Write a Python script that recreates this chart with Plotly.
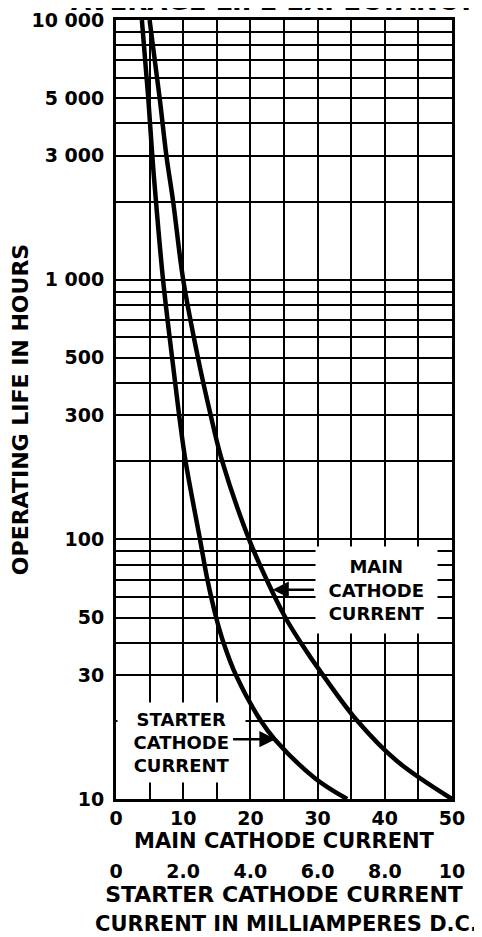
import plotly.graph_objects as go

# ---- data ----
main_hours = [10000, 5000, 3000, 2000, 1000, 500, 300, 200, 100, 70, 50, 40, 30, 20, 14, 10]
main_ma = [5.0, 6.5, 7.5, 8.5, 10.0, 12.2, 14.1, 15.8, 19.8, 22.4, 25.2, 27.5, 30.8, 35.9, 41.8, 50.0]

starter_hours = [10000, 5000, 3000, 2000, 1000, 500, 300, 200, 100, 70, 50, 40, 30, 20, 17, 12, 10]
starter_ma = [0.77, 0.96, 1.08, 1.19, 1.40, 1.67, 1.88, 2.07, 2.50, 2.72, 2.98, 3.20, 3.57, 4.31, 4.72, 5.93, 6.88]

y_grid = [10, 20, 30, 40, 50, 60, 70, 80, 90,
          100, 200, 300, 400, 500, 600, 700, 800, 900,
          1000, 2000, 3000, 4000, 5000, 6000, 7000, 8000, 9000, 10000]
y_labels = {10: "10", 30: "30", 50: "50", 100: "100", 300: "300", 500: "500",
            1000: "1 000", 3000: "3 000", 5000: "5 000", 10000: "10 000"}

x_main_grid = [0, 5, 10, 15, 20, 25, 30, 35, 40, 45, 50]
x_main_labels = {0: "0", 10: "10", 20: "20", 30: "30", 40: "40", 50: "50"}

x_starter_ticks = [0, 2, 4, 6, 8, 10]
x_starter_labels = ["0", "2.0", "4.0", "6.0", "8.0", "10"]

FONT = "DejaVu Sans"
OFF = 8                      # page body margin of the browser
W, H = 482 - OFF, 937 - OFF
ML, MR, MT, MB = 116 - OFF, 30, 20 - OFF, 79
PW = W - ML - MR
PH = H - MT - MB
PLOT_BOTTOM = 799


def px(x):
    """page x pixel -> paper coordinate"""
    return (x - OFF - ML) / PW


def py(y):
    """page y pixel -> paper coordinate"""
    return (H - MB - (y - OFF)) / PH


def bold(size):
    return dict(family=FONT, size=size, color="black", weight="bold")


fig = go.Figure()
fig.add_trace(go.Scatter(x=main_ma, y=main_hours, mode="lines",
                         line=dict(color="black", width=4.5, shape="spline", smoothing=1.0),
                         xaxis="x", yaxis="y", showlegend=False, hoverinfo="skip"))
fig.add_trace(go.Scatter(x=starter_ma, y=starter_hours, mode="lines",
                         line=dict(color="black", width=4.5, shape="spline", smoothing=1.0),
                         xaxis="x2", yaxis="y", showlegend=False, hoverinfo="skip"))

annotations = []
# partially visible title at the very top (clipped by the page edge, as in the reference)
annotations.append(dict(text="AVERAGE LIFE EXPECTANCY", xref="paper", yref="paper",
                        x=px(274), y=py(1), xanchor="center", yanchor="middle",
                        showarrow=False, font=bold(26)))
# bottom caption
annotations.append(dict(text="CURRENT IN MILLIAMPERES D.C.", xref="paper", yref="paper",
                        x=px(286), y=py(924), xanchor="center", yanchor="middle",
                        showarrow=False, font=bold(21)))

# label boxes (white background hides the grid behind them)
annotations.append(dict(text="MAIN<br>CATHODE<br>CURRENT", xref="paper", yref="paper",
                        x=px(376.5), y=py(590), xanchor="center", yanchor="middle",
                        showarrow=False, width=121, height=86, borderpad=0,
                        bgcolor="white", align="center", valign="middle", font=bold(18)))
annotations.append(dict(text="STARTER<br>CATHODE<br>CURRENT", xref="paper", yref="paper",
                        x=px(181.5), y=py(742.5), xanchor="center", yanchor="middle",
                        showarrow=False, width=127, height=79, borderpad=0,
                        bgcolor="white", align="center", valign="middle", font=bold(18)))

# arrows pointing to the curves
annotations.append(dict(text="", xref="x", yref="y", x=23.3, y=1.806, ax=43, ay=0,
                        showarrow=True, arrowhead=2, arrowsize=1.3, arrowwidth=2.5,
                        arrowcolor="black"))
annotations.append(dict(text="", xref="x2", yref="y", x=4.75, y=1.2304, ax=-44, ay=0,
                        showarrow=True, arrowhead=2, arrowsize=1.3, arrowwidth=2.5,
                        arrowcolor="black"))

fig.update_layout(
    width=W, height=H,
    margin=dict(l=ML, r=MR, t=MT, b=MB, pad=0, autoexpand=False),
    paper_bgcolor="white", plot_bgcolor="white",
    showlegend=False,
    xaxis=dict(range=[0, 50], tickvals=x_main_grid,
               ticktext=[x_main_labels.get(v, "") for v in x_main_grid],
               showgrid=True, gridcolor="black", gridwidth=2,
               showline=True, linecolor="black", linewidth=3, mirror=True,
               zeroline=False, ticks="", tickfont=bold(19), automargin=False,
               title=dict(text="MAIN CATHODE CURRENT", font=bold(21), standoff=2),
               anchor="y"),
    xaxis2=dict(range=[0, 10], overlaying="x", anchor="free", position=0, side="bottom",
                tickvals=x_starter_ticks, ticktext=x_starter_labels,
                showgrid=False, showline=False, zeroline=False, ticks="",
                tickfont=bold(19), automargin=False,
                title=dict(text="STARTER CATHODE CURRENT", font=bold(22), standoff=2)),
    yaxis=dict(type="log", range=[1, 4], domain=[py(PLOT_BOTTOM), 1],
               tickvals=y_grid, ticktext=[y_labels.get(v, "") for v in y_grid],
               showgrid=True, gridcolor="black", gridwidth=2,
               showline=True, linecolor="black", linewidth=3, mirror=True,
               zeroline=False, ticks="", tickfont=bold(19), automargin=False,
               ticklabelstandoff=5,
               title=dict(text="OPERATING LIFE IN HOURS", font=bold(22), standoff=4)),
    annotations=annotations,
)

fig.write_html("out.html")
